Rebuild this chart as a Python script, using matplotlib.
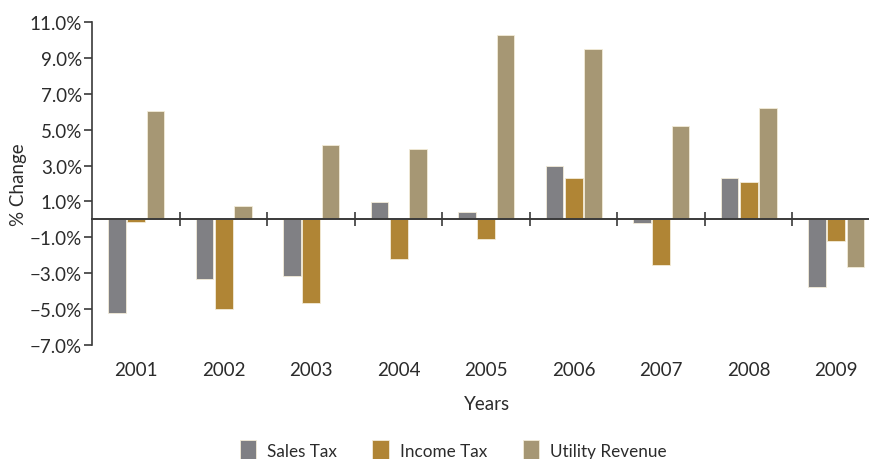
import matplotlib
matplotlib.use("Agg")
import matplotlib.pyplot as plt
import numpy as np

plt.rcParams['font.family'] = ['Lato', 'DejaVu Sans']

years = ["2001", "2002", "2003", "2004", "2005", "2006", "2007", "2008", "2009"]
sales_tax = [-5.2, -3.3, -3.15, 0.95, 0.43, 2.95, -0.18, 2.28, -3.75]
income_tax = [-0.13, -5.0, -4.67, -2.23, -1.11, 2.28, -2.54, 2.11, -1.22]
utility_revenue = [6.05, 0.76, 4.13, 3.95, 10.29, 9.52, 5.23, 6.23, -2.63]
series_names = ["Sales Tax", "Income Tax", "Utility Revenue"]
colors = ["#808084", "#b08535", "#a69774"]
yticks = [-7, -5, -3, -1, 1, 3, 5, 7, 9, 11]

FS = 13.5
TC = "#2b2b2b"

fig = plt.figure(figsize=(8.7, 4.6), dpi=100)
ax = fig.add_axes([92.5/870, 1-346/460, 1-92.5/870, (346-23)/460])

x = np.arange(len(years))
offset = 0.22
width = 0.205
for i, (vals, name, c) in enumerate(zip([sales_tax, income_tax, utility_revenue], series_names, colors)):
    ax.bar(x + (i-1)*offset, vals, width, color=c, label=name,
           edgecolor="#f3ecd8", linewidth=0.6, zorder=2)

ax.set_ylim(-7, 11)
ax.set_xlim(-0.5, -0.5 + 777.5/87.5)
ax.set_yticks(yticks)
ax.set_yticklabels([("\u2212" if v < 0 else "") + f"{abs(v):.1f}%" for v in yticks])

spine_c = "#3a3a3a"
for s in ["top", "right"]:
    ax.spines[s].set_visible(False)
ax.spines["left"].set_color(spine_c)
ax.spines["left"].set_linewidth(1.2)
ax.spines["bottom"].set_position(("data", 0))
ax.spines["bottom"].set_color(spine_c)
ax.spines["bottom"].set_linewidth(1.4)
ax.spines["bottom"].set_zorder(3)

ax.tick_params(axis="y", direction="out", length=6, width=1.2, color=spine_c,
               labelsize=FS, labelcolor=TC, pad=1.5)
ax.set_xticks(x)
ax.set_xticklabels(years)
ax.tick_params(axis="x", which="major", length=0, pad=102, labelsize=FS, labelcolor=TC)
ax.set_xticks(x[:-1] + 0.5, minor=True)
ax.tick_params(axis="x", which="minor", direction="inout", length=10, width=1.2, color=spine_c)

ax.set_ylabel("% Change", fontsize=FS, color=TC, labelpad=2)

fig.text(487/870, 1-405/460, "Years", ha="center", va="center", fontsize=FS, color=TC)

fig.legend(loc="center", bbox_to_anchor=(453/870, 1-451/460), ncol=3, frameon=False,
           fontsize=12.3, handlelength=0.95, handleheight=1.4, handletextpad=0.64,
           columnspacing=2.1, labelcolor=TC)

fig.savefig("out.png", dpi=100)
